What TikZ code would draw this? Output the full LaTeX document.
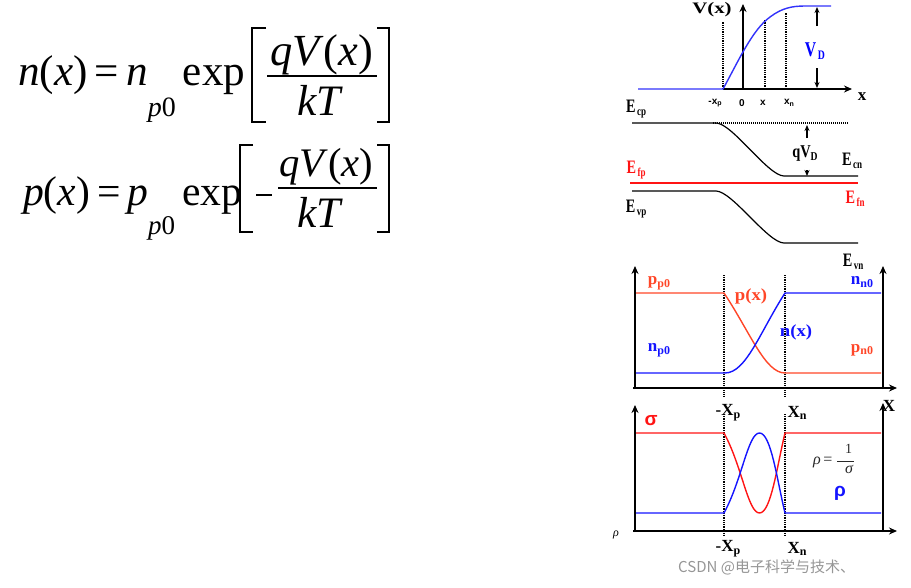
\documentclass[tikz,border=0pt]{standalone}
\usepackage{graphicx}
\usepackage{fontspec}
\setmainfont{Liberation Serif}
\newfontfamily\cjkfont{Noto Sans CJK SC}
\newfontfamily\sansfont{Liberation Sans}
\usetikzlibrary{arrows.meta}
\definecolor{vblue}{RGB}{50,50,250}
\definecolor{pblue}{RGB}{20,20,255}
\definecolor{pred}{RGB}{255,70,40}
\definecolor{sred}{RGB}{255,20,20}
\definecolor{wmgray}{RGB}{150,150,150}
\definecolor{eqgray}{RGB}{40,40,40}
\newcommand\lb[3]{#1\raisebox{-0.35ex}{\fontsize{#3}{#3}\selectfont #2}}
\newcommand\elb[1]{\scalebox{0.75}[1]{\lb{E}{\,#1}{12}}}
\tikzset{
  axisarrow/.style={line width=1.8pt,-{Stealth[length=8pt,width=7pt]}},
  dotline/.style={line width=1.8pt,dash pattern=on 0.9pt off 0.9pt},
  bandline/.style={line width=1.2pt},
  curve/.style={line width=1.4pt},
  lab/.style={font=\bfseries\fontsize{13}{13}\selectfont, inner sep=0pt},
  elab/.style={font=\bfseries\fontsize{19}{19}\selectfont, inner sep=0pt},
  biglab/.style={font=\bfseries\fontsize{17}{17}\selectfont, inner sep=0pt},
  smalllab/.style={font=\sansfont\bfseries\fontsize{10}{10}\selectfont, inner sep=0pt},
  vd/.style={-{Stealth[length=6pt,width=5pt]},line width=1.2pt},
  eqtext/.style={inner sep=0pt, anchor=base, font=\fontsize{40}{40}\selectfont},
  bracket/.style={line width=2.2pt, line join=miter},
  fracbar/.style={line width=1.8pt}
}
\begin{document}
\begin{tikzpicture}[x=1pt,y=-1pt]
\useasboundingbox (0,0) rectangle (911,587);

% ---- equation 1
\node[eqtext,anchor=base west] (eq1l) at (18,85) {\resizebox{227pt}{!}{\textit{n}(\textit{x})\,=\,\textit{n}\raisebox{-0.72em}{\fontsize{26}{26}\selectfont\textit{p}0}\,exp}};
\node[eqtext] (eq1n) at (321.5,65) {\resizebox{103pt}{!}{\textit{qV}(\textit{x})}};
\node[eqtext] (eq1d) at (320,115) {\resizebox{46pt}{!}{\textit{kT}}};
\draw[fracbar] (267,76) -- (377,76);
\draw[bracket] (266,28) -- (252,28) -- (252,122) -- (266,122);
\draw[bracket] (377,28) -- (389,28) -- (389,122) -- (377,122);

% ---- equation 2
\node[eqtext,anchor=base west] (eq2l) at (23,205) {\resizebox{219pt}{!}{\textit{p}(\textit{x})\,=\,\textit{p}\raisebox{-0.72em}{\fontsize{26}{26}\selectfont\textit{p}0}\,exp}};
\node[eqtext] (eq2n) at (326.5,176) {\resizebox{94pt}{!}{\textit{qV}(\textit{x})}};
\node[eqtext] (eq2d) at (320,227) {\resizebox{46pt}{!}{\textit{kT}}};
\draw[fracbar] (278,188) -- (377,188);
\draw[line width=1.8pt] (256,195) -- (272,195);
\draw[bracket] (253,145) -- (240,145) -- (240,232) -- (253,232);
\draw[bracket] (377,145) -- (389,145) -- (389,232) -- (377,232);

% ---- graph 1: V(x)
\coordinate (g1o) at (723,89);
\coordinate (g1x) at (852,89);
\coordinate (g1y0) at (743,89);
\coordinate (g1yt) at (743,4);
\draw[axisarrow] (g1o) -- (g1x);
\draw[axisarrow] (g1y0) -- (g1yt);
\draw[dotline] (723,89) -- (723,22);
\draw[dotline] (765,89) -- (765,20);
\draw[dotline] (786,89) -- (786,12);
\draw[curve,vblue] (638,89) -- (723,89) .. controls (738,62) and (752,30) .. (770,17) .. controls (782,8) and (792,6) .. (805,6) -- (831,6);
\coordinate (vdt) at (817,7);
\coordinate (vdb) at (817,88);
\coordinate (vdt2) at (817,26);
\coordinate (vdb2) at (817,68);
\draw[vd] (vdt2) -- (vdt);
\draw[vd] (vdb2) -- (vdb);
\node[lab,text=blue,font=\bfseries\fontsize{21}{21}\selectfont] (vdl) at (815,51) {\scalebox{0.75}[1]{\lb{V}{\,D}{13}}};
\node[lab,font=\bfseries\fontsize{16}{16}\selectfont] (vx) at (712,10) {\scalebox{1.3}[1]{V(x)}};
\node[smalllab] (lxp) at (715,103) {-x\raisebox{-0.3ex}{\fontsize{7}{7}\selectfont p}};
\node[smalllab] (l0) at (742,103) {0};
\node[smalllab] (lx) at (763,103) {x};
\node[smalllab] (lxn) at (789,103) {x\raisebox{-0.3ex}{\fontsize{7}{7}\selectfont n}};
\node[lab,font=\bfseries\fontsize{17}{17}\selectfont] (xax) at (862,97) {x};

% ---- graph 2: band diagram
\draw[bandline] (632,123) -- (716,123) .. controls (732,123) and (768,176) .. (784,176) -- (858,176);
\draw[bandline] (632,191) -- (716,191) .. controls (732,191) and (768,243) .. (784,243) -- (858,243);
\draw[line width=1.3pt,sred] (630,183) -- (858,183);
\draw[line width=1.8pt,dash pattern=on 1pt off 1pt] (713,123) -- (848,123);
\draw[vd] (807,138) -- (807,125);
\draw[vd] (807,170) -- (807,176);
\node[lab,font=\bfseries\fontsize{18}{18}\selectfont] (qvd) at (805,154) {\scalebox{0.8}[1]{qV\raisebox{-0.35ex}{\fontsize{12}{12}\selectfont D}}};
\node[elab] (ecp) at (636,109) {\elb{cp}};
\node[elab] (ecn) at (852,161) {\elb{cn}};
\node[elab,text=sred] (efp) at (636,170) {\elb{fp}};
\node[elab,text=sred] (efn) at (855,199) {\elb{fn}};
\node[elab] (evp) at (636,209) {\elb{vp}};
\node[elab] (evn) at (853,262) {\elb{vn}};

% ---- graph 3: carriers
\coordinate (g3o) at (635,388);
\draw[axisarrow] (633,388) -- (897,388);
\draw[axisarrow] (635,389) -- (635,266);
\draw[axisarrow] (883,389) -- (883,266);
\draw[dotline] (724,275) -- (724,396);
\draw[dotline] (785,275) -- (785,396);
\draw[curve,pred] (636,293) -- (724,293) .. controls (750,332) and (765,373) .. (785,373) -- (881,373);
\draw[curve,pblue] (636,373) -- (725,373) .. controls (746,373) and (760,332) .. (785,293) -- (881,293);
\node[biglab,text=pred] (pp0) at (659,283) {\lb{p}{p0}{12}};
\node[biglab,text=pred] (px) at (751,296) {\scalebox{1.1}[1]{p(x)}};
\node[biglab,text=pblue] (nx) at (796,332) {\scalebox{1.1}[1]{n(x)}};
\node[biglab,text=pblue] (np0) at (659,350) {\lb{n}{p0}{12}};
\node[biglab,text=pblue] (nn0) at (862,282) {\lb{n}{n0}{12}};
\node[biglab,text=pred] (pn0) at (862,350) {\lb{p}{n0}{12}};

% ---- graph 4: conductivity / resistivity
\draw[axisarrow] (633,531) -- (897,531);
\draw[axisarrow] (635,532) -- (635,405);
\draw[axisarrow] (883,532) -- (883,403);
\draw[dotline] (724,414) -- (724,536);
\draw[dotline] (785,414) -- (785,536);
\draw[curve,sred] (636,433) -- (724,433) .. controls (742,466) and (748,513) .. (759.5,513) .. controls (771,513) and (777,466) .. (785,433) -- (881,433);
\draw[curve,pblue] (636,513) -- (724,513) .. controls (742,480) and (748,433) .. (759.5,433) .. controls (771,433) and (777,480) .. (785,513) -- (881,513);
\node[inner sep=0pt,text=sred,font=\sansfont\bfseries\fontsize{19}{19}\selectfont] (sig) at (651,421) {σ};
\node[inner sep=0pt,text=pblue,font=\sansfont\bfseries\fontsize{19}{19}\selectfont] (rho) at (840,493) {ρ};
% rho = 1/sigma
\node[inner sep=0pt,text=eqgray,font=\itshape\fontsize{16}{16}\selectfont] (rdr) at (817,462) {ρ};
\node[inner sep=0pt,text=eqgray,font=\fontsize{16}{16}\selectfont] (rdeq) at (828,461) {=};
\node[inner sep=0pt,text=eqgray,font=\fontsize{14}{14}\selectfont] (rd1) at (848.5,449) {1};
\node[inner sep=0pt,text=eqgray,font=\itshape\fontsize{16}{16}\selectfont] (rds) at (849,469) {σ};
\draw[eqgray,line width=0.8pt] (837,461) -- (854,461);
\node[biglab] (xpt) at (728,413) {-X\raisebox{-0.35ex}{\fontsize{12}{12}\selectfont p}};
\node[biglab] (xnt) at (797,413) {X\raisebox{-0.35ex}{\fontsize{12}{12}\selectfont n}};
\node[biglab] (xpb) at (728,549) {-X\raisebox{-0.35ex}{\fontsize{12}{12}\selectfont p}};
\node[biglab] (xnb) at (797,549) {X\raisebox{-0.35ex}{\fontsize{12}{12}\selectfont n}};
\node[biglab] (xtop) at (889,406) {X};
\node[inner sep=0pt,font=\itshape\fontsize{12}{12}\selectfont] (psmall) at (616,535) {ρ};

% watermark
\node[inner sep=0pt,text=wmgray,font=\cjkfont\fontsize{15}{15}\selectfont,anchor=west] (wm) at (678,567) {CSDN @电子科学与技术、};
\end{tikzpicture}
\end{document}
